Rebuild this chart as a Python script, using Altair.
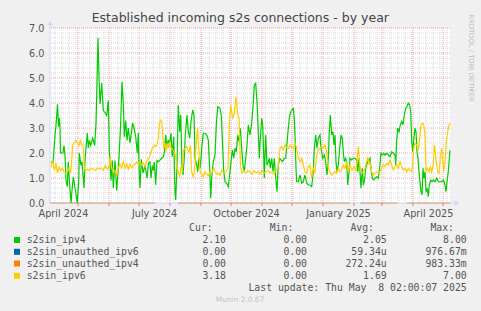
import altair as alt
import pandas as pd
import numpy as np

# ---------------- data (days since 2024-04-03, value) ----------------
START = pd.Timestamp("2024-04-03")
END = pd.Timestamp("2025-05-08")

GREEN_DAY = [1, 3, 5, 6, 7.5, 8.5, 9.5, 10, 10.5, 13, 14, 15, 16, 17.3, 18.3, 19, 21, 21.7, 23.3, 25, 27.3, 28.7, 29.3, 31, 32, 34, 35, 37.3, 38.3, 39.3, 40.7, 42.7, 44.7, 46, 47, 48, 49, 50, 51.7, 53.3, 55.3, 56.7, 58.3, 59.3, 61, 62.3, 63.3, 65, 66.7, 69, 70.7, 72, 73.3, 74.3, 75.7, 77, 78.3, 80, 82.7, 84.3, 85.7, 87.3, 88.3, 89.3, 90, 91.3, 93, 95, 97, 98.5, 100, 101, 102.3, 103.3, 104.3, 105.7, 107, 108.3, 110, 111.7, 113.3, 114.3, 115.7, 116.7, 118.3, 119.3, 121, 122.3, 123.7, 125, 125.7, 127, 128.3, 129.7, 130.7, 132, 133, 134.3, 135.3, 137, 138.3, 139.7, 141, 142.7, 144, 145, 146.7, 147.7, 149, 150.3, 151.7, 153.3, 155, 156.7, 158.3, 160, 160.7, 161.7, 163.3, 165, 166.3, 167.7, 170, 171.3, 172.3, 173.7, 175, 176.7, 178.3, 180, 181, 182.3, 183.7, 185, 186.3, 187.7, 189, 190.3, 191.7, 193, 194.3, 195.7, 197, 198.3, 200, 201.7, 203.3, 204.3, 205.7, 207, 208.3, 209.3, 210.3, 211.7, 212.7, 213.7, 214.3, 215.7, 217, 218.3, 219.3, 220.3, 221.7, 223, 224.3, 225.7, 227, 228.3, 229.7, 231, 232.7, 234.3, 235.7, 237.7, 239.3, 240.7, 242, 243.3, 244.3, 245, 246, 246.7, 248.3, 250, 251.7, 253.3, 255, 256.7, 258.3, 260, 261.7, 263.3, 264.3, 265.7, 267, 268.3, 270, 271, 272.7, 274.3, 275.7, 277, 278.3, 279.3, 280.3, 281.7, 283, 284, 285, 286, 287, 288.3, 289.7, 291, 292.3, 293.3, 294.3, 295.7, 296.7, 297.7, 299, 300, 301.7, 303.3, 305, 306.7, 307.7, 309, 310, 311, 312.3, 313.3, 314.3, 315.7, 316.7, 317.7, 319, 320, 321, 322.3, 323.7, 325, 326.7, 328.3, 330, 331, 332.3, 333.7, 335, 336.7, 338.3, 340, 341.7, 343.3, 345, 345.7, 346.7, 347.7, 349, 350.3, 351.7, 353, 354.3, 355.7, 357, 358.3, 359.7, 360.7, 361.7, 362.7, 363.7, 365, 366, 367, 368, 369, 370, 371, 372, 373, 374, 375, 376, 377.3, 378.3, 379.3, 380.7, 382, 383.3, 385, 386.7, 388.3, 390, 391.7, 393.3, 395, 396, 397, 398.3, 399.3, 400]
GREEN_VAL = [1.65, 1.6, 2.7, 3.1, 3.95, 3.05, 3.4, 3.0, 2.0, 2.0, 2.3, 1.9, 0.9, 0.65, 1.65, 1.1, 0.0, 0.35, 1.05, 0.6, 0.0, 0.9, 2.0, 1.5, 1.65, 0.6, 1.7, 2.8, 2.2, 2.5, 2.3, 2.6, 2.3, 3.2, 4.8, 6.6, 5.1, 3.96, 4.8, 3.7, 3.6, 3.5, 4.1, 2.1, 0.9, 1.7, 0.6, 1.7, 0.5, 1.8, 3.2, 4.85, 4.0, 2.65, 3.3, 2.5, 3.0, 2.4, 3.2, 2.95, 2.65, 2.0, 2.8, 1.1, 0.6, 1.75, 1.2, 1.5, 1.0, 1.6, 1.65, 1.0, 1.5, 1.3, 1.65, 0.72, 1.7, 1.65, 1.72, 1.79, 1.85, 2.0, 2.72, 2.26, 2.52, 2.3, 2.79, 1.85, 2.65, 0.45, 0.12, 1.5, 3.92, 2.85, 3.52, 1.52, 1.12, 1.8, 2.72, 3.52, 2.85, 2.6, 3.26, 3.72, 3.52, 1.8, 1.52, 1.25, 1.79, 1.4, 2.19, 2.79, 2.79, 2.72, 2.52, 1.12, 0.19, 1.0, 1.65, 1.92, 3.12, 3.85, 3.79, 3.52, 2.6, 1.32, 0.85, 0.79, 0.65, 1.25, 1.65, 2.12, 1.79, 2.19, 2.05, 2.72, 2.45, 2.99, 2.19, 1.52, 1.25, 1.79, 2.32, 3.12, 2.72, 3.19, 4.0, 4.72, 4.79, 4.05, 2.85, 1.79, 2.59, 3.39, 3.12, 1.92, 1.0, 2.72, 1.52, 1.65, 1.79, 1.39, 1.79, 1.25, 1.79, 1.0, 0.45, 1.52, 1.79, 1.72, 1.65, 1.79, 1.79, 2.72, 3.39, 3.65, 3.72, 3.79, 3.39, 2.72, 1.39, 0.85, 0.85, 1.12, 0.79, 0.85, 1.12, 0.79, 0.72, 0.72, 0.65, 1.25, 2.19, 2.72, 2.19, 2.59, 2.72, 2.19, 1.79, 1.92, 1.65, 1.12, 1.79, 2.85, 3.52, 2.72, 2.85, 2.32, 2.72, 1.65, 1.25, 1.52, 2.19, 2.72, 2.59, 2.05, 1.65, 1.79, 1.65, 0.72, 1.25, 1.79, 1.72, 1.79, 1.79, 1.72, 1.25, 1.79, 1.25, 0.59, 1.39, 0.72, 0.85, 1.39, 1.52, 1.65, 1.72, 1.79, 1.39, 0.99, 0.92, 0.99, 1.05, 0.99, 1.52, 1.99, 1.92, 1.99, 1.92, 1.99, 1.92, 1.85, 2.05, 1.99, 1.92, 1.52, 2.52, 2.99, 2.85, 3.12, 3.26, 3.12, 3.52, 3.79, 3.85, 3.99, 3.92, 3.65, 2.52, 2.05, 2.52, 2.99, 2.85, 2.05, 1.79, 1.25, 0.85, 0.45, 0.32, 1.39, 0.99, 1.25, 0.45, 0.59, 0.25, 0.72, 0.92, 0.85, 0.92, 0.85, 0.99, 0.85, 0.85, 0.85, 0.92, 0.72, 0.45, 0.85, 1.25, 1.79, 2.1]

YELLOW_DAY = [1, 2.7, 4.3, 6, 7.3, 9, 10.7, 12.3, 14, 15.7, 17.3, 19, 20.7, 21.7, 22.7, 24, 25.7, 27.3, 29, 30.3, 31.7, 33.3, 34.3, 35.3, 37.3, 39.3, 41.3, 43.3, 45.3, 47.3, 49.3, 51.3, 53.3, 55.3, 57.3, 59.3, 60, 61.7, 63.3, 65, 66.7, 68.3, 70, 71.7, 73.3, 75, 76.7, 78.3, 80, 81.7, 83.3, 85, 86.7, 88.3, 90, 91.7, 93.3, 95, 97, 99.3, 101, 102.3, 104.3, 105.7, 107, 108.3, 109.3, 110.3, 111.7, 112.7, 113.7, 115, 116, 117, 118.3, 119.3, 120.3, 121.7, 123, 124.3, 125.7, 127, 128.3, 129.7, 131, 132.3, 133.7, 135, 136.3, 137.7, 139, 140.3, 141.7, 143, 144.3, 146, 147.5, 149, 150, 151, 153.3, 155, 156.7, 158.3, 160, 161.7, 163.7, 165, 166.7, 168.3, 170, 171.7, 173.3, 175, 176.7, 178, 179.5, 181, 182.5, 184, 186, 187.5, 189, 190.5, 192, 194, 196, 198, 200, 202, 204, 206, 208, 210, 212, 214, 216, 218, 220, 222, 224, 226, 228, 230, 231.7, 233.3, 235, 236.7, 238.3, 240, 241.7, 243.3, 245, 246.7, 248.3, 250, 251.7, 253.3, 255, 256.7, 258.3, 260, 261.7, 263.3, 265, 266.7, 268.3, 270, 271.7, 273.3, 275, 276.7, 278.3, 280, 281.7, 283.3, 285, 286.7, 288.3, 290, 291.7, 293.3, 295, 296.7, 298.3, 300, 302, 304, 306, 308.3, 310, 311.7, 313.3, 315, 316.7, 317.7, 319, 320, 321.7, 323.3, 325, 326.7, 328.3, 330, 331.7, 333.3, 335, 336.7, 338.3, 340, 341.7, 343.3, 345, 346.7, 348.3, 350, 351.7, 353.3, 355, 356.7, 358.3, 360, 361.7, 362.7, 363.7, 365, 366.7, 368.3, 370, 371, 372.3, 373.7, 375, 376, 377.3, 379, 380.3, 381.7, 383.3, 384.3, 385.3, 386.3, 387.7, 389, 390.3, 391.7, 392.7, 393.7, 395, 396.3, 397.7, 399, 400]
YELLOW_VAL = [1.45, 1.7, 1.3, 1.6, 1.2, 1.45, 1.3, 1.4, 1.25, 1.2, 1.25, 1.4, 1.2, 1.7, 2.3, 2.4, 2.5, 2.4, 2.3, 2.5, 2.3, 2.25, 1.45, 1.25, 1.35, 1.3, 1.4, 1.35, 1.3, 1.4, 1.35, 1.4, 1.3, 1.5, 1.35, 1.5, 1.85, 1.4, 1.2, 1.3, 1.1, 1.4, 1.55, 1.4, 1.65, 1.4, 1.55, 1.35, 1.55, 1.4, 1.5, 1.55, 1.65, 1.55, 1.65, 1.5, 1.6, 1.45, 1.7, 1.8, 2.05, 2.19, 2.32, 2.26, 2.32, 2.59, 3.12, 3.32, 3.26, 2.72, 2.19, 2.39, 2.05, 2.39, 2.19, 2.45, 2.26, 2.19, 2.12, 2.05, 1.85, 1.39, 1.25, 1.05, 1.45, 1.25, 2.12, 2.19, 2.26, 2.12, 2.05, 2.32, 1.25, 1.05, 1.2, 2.2, 3.0, 2.0, 1.3, 1.2, 1.05, 1.25, 1.15, 1.1, 1.25, 1.2, 1.4, 1.25, 1.15, 1.2, 1.1, 1.3, 1.25, 1.2, 1.3, 1.4, 3.3, 3.9, 3.4, 3.5, 4.25, 3.6, 3.4, 1.5, 1.2, 1.3, 1.2, 1.3, 1.25, 1.15, 1.3, 1.2, 1.25, 1.15, 1.3, 1.2, 1.25, 1.3, 1.2, 1.25, 1.15, 1.3, 1.4, 2.19, 2.26, 2.12, 2.32, 2.2, 2.19, 2.32, 2.2, 2.19, 2.39, 2.2, 1.79, 1.65, 1.79, 1.52, 1.25, 1.19, 1.45, 1.52, 0.99, 1.39, 1.25, 1.92, 2.12, 2.19, 2.26, 2.19, 2.32, 2.05, 1.39, 1.25, 1.12, 1.19, 1.25, 1.19, 1.39, 1.25, 1.32, 1.52, 1.39, 1.65, 1.25, 1.52, 1.3, 1.45, 1.3, 2.26, 1.39, 1.19, 1.25, 1.39, 1.65, 1.85, 1.52, 1.65, 1.25, 1.12, 1.19, 1.25, 1.19, 1.25, 1.39, 1.52, 1.45, 1.59, 1.52, 1.72, 1.52, 1.32, 1.45, 1.52, 1.39, 1.65, 1.45, 1.32, 1.39, 1.25, 1.39, 1.32, 1.25, 1.52, 2.19, 2.39, 2.32, 2.12, 2.72, 3.12, 3.19, 3.12, 2.72, 1.25, 1.39, 1.25, 1.45, 1.25, 1.52, 2.32, 2.05, 1.65, 1.25, 1.19, 1.79, 2.19, 1.79, 1.25, 1.65, 2.45, 2.85, 3.12, 3.18]

# unauthed series are zero wherever known; spans (days) where they have data
ZERO_START = [0, 128, 310, 357]
ZERO_END = [105, 300, 347, 400]

SERIES = ["s2sin_ipv4", "s2sin_unauthed_ipv6", "s2sin_unauthed_ipv4", "s2sin_ipv6"]
COLORS = ["#00CC00", "#0066B3", "#FF8000", "#FFCC00"]
CUR = ["2.10\u00a0", "0.00\u00a0", "0.00\u00a0", "3.18\u00a0"]
MIN = ["0.00\u00a0", "0.00\u00a0", "0.00\u00a0", "0.00\u00a0"]
AVG = ["2.05\u00a0", "59.34u", "272.24u", "1.69\u00a0"]
MAX = ["8.00\u00a0", "976.67m", "983.33m", "7.00\u00a0"]
Y_TICKS = [0, 1, 2, 3, 4, 5, 6, 7]
X_LABELS = [(2024, 4, 16), (2024, 7, 16), (2024, 10, 16), (2025, 1, 16), (2025, 4, 16)]

TITLE = "Established incoming s2s connections - by year"
LAST_UPDATE = "Last update: Thu May\u00a0 8 02:00:07 2025"

# ---------------- helpers ----------------
def iso(days):
    return [(START + pd.to_timedelta(d, unit="D")).strftime("%Y-%m-%dT%H:%M:%SZ") for d in days]

FONT = "DejaVu Sans"
MONO = "DejaVu Sans Mono"
TXT = "#555555"

xscale = alt.Scale(type="utc", domain=[alt.DateTime(year=2024, month=4, date=3, utc=True),
                                       alt.DateTime(year=2025, month=5, date=8, utc=True)])
yscale = alt.Scale(domain=[0, 7], nice=False, zero=False)

x_axis = alt.Axis(values=[alt.DateTime(year=a, month=b, date=c, utc=True) for a, b, c in X_LABELS],
                  format="%B %Y", grid=False, ticks=False, tickSize=0, domain=False,
                  labelFont=FONT, labelFontSize=9.7, labelColor=TXT, labelPadding=13.5,
                  labelBaseline="alphabetic", labelAlign="center", labelFlush=False,
                  labelOverlap=False)
y_axis = alt.Axis(values=Y_TICKS, format=".1f", grid=False, ticks=False, tickSize=0, domain=False,
                  labelFont=FONT, labelFontSize=9.7, labelColor=TXT, labelPadding=6,
                  labelBaseline="middle", labelAlign="right", labelOverlap=False)


def X(field="t:T"):
    return alt.X(field, scale=xscale, axis=x_axis, title=None)


def Y(field="v:Q"):
    return alt.Y(field, scale=yscale, axis=y_axis, title=None)


def txt(s, x, y, **kw):
    return alt.Chart(pd.DataFrame({"s": [s]})).mark_text(**kw).encode(
        x=alt.value(x), y=alt.value(y), text="s:N")

# ---------------- grid ----------------
month_starts = pd.date_range("2024-05-01", "2025-05-01", freq="MS")
weeks = [d for d in pd.date_range(START, END, freq="W-MON") if d.day != 1]
vmin_df = pd.DataFrame({"t": [d.strftime("%Y-%m-%dT00:00:00Z") for d in weeks]})
vmaj_df = pd.DataFrame({"t": [d.strftime("%Y-%m-%dT00:00:00Z") for d in month_starts]})
hmin_df = pd.DataFrame({"v": [round(i * 0.2, 1) for i in range(1, 35) if i % 5]})
hmaj_df = pd.DataFrame({"v": Y_TICKS[1:]})

grid_minor_v = alt.Chart(vmin_df).mark_rule(color="#D8D8D8", strokeWidth=1, strokeDash=[1, 1]).encode(x=X())
grid_minor_h = alt.Chart(hmin_df).mark_rule(color="#D8D8D8", strokeWidth=1, strokeDash=[1, 1]).encode(y=Y())
grid_major_v = alt.Chart(vmaj_df).mark_rule(color="#EFA3A3", strokeWidth=1, strokeDash=[1, 1]).encode(x=X())
grid_major_h = alt.Chart(hmaj_df).mark_rule(color="#EFA3A3", strokeWidth=1, strokeDash=[1, 1]).encode(y=Y())
month_ticks = alt.Chart(vmaj_df).mark_rule(color="#E88080", strokeWidth=1).encode(
    x=X(), y=alt.value(175), y2=alt.value(178))

# ---------------- axes decorations ----------------
AXIS_C = "#CFD6F8"
one = pd.DataFrame({"a": [0]})
yaxis_line = alt.Chart(one).mark_rule(color=AXIS_C).encode(
    x=alt.value(0), y=alt.value(-6), y2=alt.value(176))
xaxis_line = alt.Chart(one).mark_rule(color=AXIS_C).encode(
    x=alt.value(0), x2=alt.value(406), y=alt.value(175))
yarrow = alt.Chart(one).mark_point(shape="triangle-up", filled=True, size=28,
                                   color=AXIS_C, opacity=1).encode(x=alt.value(0), y=alt.value(-5))
xarrow = alt.Chart(one).mark_point(shape="triangle-right", filled=True, size=28,
                                   color=AXIS_C, opacity=1).encode(x=alt.value(407), y=alt.value(175))

# ---------------- series ----------------
zero_df = pd.DataFrame({"t": iso(ZERO_START), "t2": iso(ZERO_END), "v": [0.0] * len(ZERO_START)})
blue_zero = alt.Chart(zero_df).mark_rule(color=COLORS[1], strokeWidth=1, opacity=0.12).encode(
    x=X(), x2="t2:T", y=Y())
orange_zero = alt.Chart(zero_df).mark_rule(color=COLORS[2], strokeWidth=1.2, opacity=0.55).encode(
    x=X(), x2="t2:T", y=Y())

green_df = pd.DataFrame({"t": iso(GREEN_DAY), "v": GREEN_VAL})
yellow_df = pd.DataFrame({"t": iso(YELLOW_DAY), "v": YELLOW_VAL})

green_line = alt.Chart(green_df).mark_line(color=COLORS[0], strokeWidth=1.2).encode(x=X(), y=Y())
yellow_line = alt.Chart(yellow_df).mark_line(color=COLORS[3], strokeWidth=1.2).encode(x=X(), y=Y())

# ---------------- texts ----------------
texts = [
    txt(TITLE, 190.3, -6, font=FONT, fontSize=12.5, color="#444444", align="center", baseline="alphabetic"),
    txt("RRDTOOL / TOBI OETIKER", 421, 30, font=FONT, fontSize=6.8, color="#BBBBBB", align="center",
        baseline="middle", angle=90),
    txt("Munin 2.0.67", 190, 272, font=FONT, fontSize=7.4, color="#C4C4C4", align="center", baseline="middle"),
    txt(LAST_UPDATE, 416.7, 260, font=MONO, fontSize=9.8, color=TXT, align="right", baseline="middle"),
]
HEAD_Y = 200
ROW_Y = [212, 223.8, 235.5, 247.8]
for name, xr in [("Cur:", 162.7), ("Min:", 243.3), ("Avg:", 324), ("Max:", 404)]:
    texts.append(txt(name, xr, HEAD_Y, font=MONO, fontSize=9.8, color=TXT, align="right", baseline="middle"))
for i, name in enumerate(SERIES):
    texts.append(alt.Chart(one).mark_square(size=36, color=COLORS[i], opacity=1).encode(
        x=alt.value(-33), y=alt.value(ROW_Y[i])))
    texts.append(txt(name, -23.3, ROW_Y[i], font=MONO, fontSize=9.8, color=TXT, align="left", baseline="middle"))
    for arr, xr in [(CUR, 176), (MIN, 257), (AVG, 336.7), (MAX, 416.7)]:
        texts.append(txt(arr[i], xr, ROW_Y[i], font=MONO, fontSize=9.8, color=TXT, align="right",
                         baseline="middle"))

chart = alt.layer(
    grid_minor_v, grid_minor_h, grid_major_v, grid_major_h,
    yaxis_line, xaxis_line, yarrow, xarrow, month_ticks,
    blue_zero, orange_zero, green_line, yellow_line,
    *texts
).properties(
    width=400, height=175,
    padding={"left": 50, "top": 28, "right": 31, "bottom": 108},
    autosize=alt.AutoSizeParams(type="none"),
    background="#F0F0F0",
).configure_view(fill="#FFFFFF", stroke=None, strokeWidth=0)

chart.save("out.html", embed_options={"renderer": "svg", "actions": False})
